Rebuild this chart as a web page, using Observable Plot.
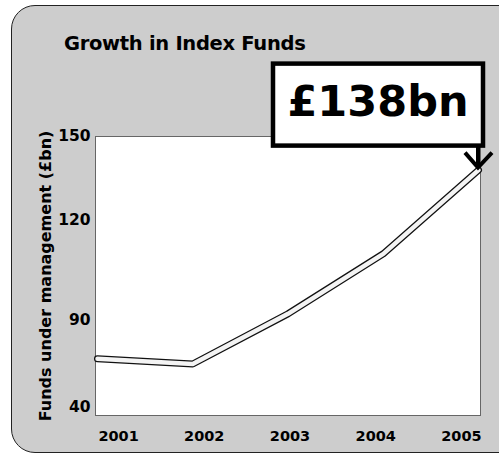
<!DOCTYPE html>
<html>
<head>
<meta charset="utf-8">
<script src="https://cdn.jsdelivr.net/npm/d3@7"></script>
<script src="https://cdn.jsdelivr.net/npm/@observablehq/plot@0.6"></script>
<style>
  body { margin: 0; background: #fff; }
  #wrap { position: relative; width: 499px; height: 462px; overflow: hidden; font-family: "DejaVu Sans", sans-serif; }
  #bg { position: absolute; left: 11px; top: 5px; width: 540px; height: 446px; border: 1.5px solid #222; border-radius: 24px; background: #cdcdcd; }
  #title { position: absolute; left: 64px; top: 32px; font: bold 19.5px "DejaVu Sans", sans-serif; color: #000; letter-spacing: -0.3px; white-space: nowrap; }
  #chart { position: absolute; left: 0; top: 0; }
</style>
</head>
<body>
<div id="wrap">
  <div id="bg"></div>
  <div id="chart"></div>
  <div id="title">Growth in Index Funds</div>
</div>
<script>
// Data
const years = [2001, 2002, 2003, 2004, 2005];
const funds = [68, 65, 92, 110, 138];           // £bn under management
const yTicks = [40, 90, 120, 150];
const calloutYear = 2005;
const calloutValue = 138;
const calloutText = "£138bn";
const yLabel = "Funds under management (£bn)";

const data = years.map((year, i) => ({ year, value: funds[i] }));

const chart = Plot.plot({
  width: 499,
  height: 462,
  marginLeft: 95,
  marginRight: 19,
  marginTop: 136,
  marginBottom: 47,
  style: { background: "transparent", fontFamily: "DejaVu Sans, sans-serif", fontWeight: "bold", color: "#000" },
  x: { domain: [2001, 2005], inset: 2, axis: null },
  // the printed axis is piecewise (unevenly spaced tick values)
  y: { type: "linear", domain: yTicks, range: [407, 320, 220, 136], axis: null },
  marks: [
    Plot.frame({ fill: "white", stroke: "#666", strokeWidth: 1 }),
    Plot.axisY({ ticks: yTicks, tickSize: 0, tickPadding: 5, fontSize: 15.5, label: null, fill: "#000" }),
    // year labels are printed slightly drawn-in toward the centre of the axis
    Plot.text(years, { x: d => 2003 + (d - 2003) * 0.9, frameAnchor: "bottom", dy: 21, dx: 2, text: d => String(d), fontSize: 14.5, fill: "#000", lineAnchor: "middle" }),
    Plot.text([yLabel], { frameAnchor: "left", rotate: -90, dx: -50, fontSize: 16, fill: "#000", textAnchor: "middle", lineAnchor: "middle" }),
    Plot.line(data, { x: "year", y: "value", stroke: "#111", strokeWidth: 7, strokeLinecap: "round", strokeLinejoin: "round" }),
    Plot.line(data, { x: "year", y: "value", stroke: "#f4f4f4", strokeWidth: 4.5, strokeLinecap: "round", strokeLinejoin: "round" })
  ]
});

document.getElementById("chart").appendChild(chart);

// Callout box and arrow anchored to the 2005 data point via the plot's scales
const px = chart.scale("x").apply(calloutYear);
const py = chart.scale("y").apply(calloutValue);
const svg = d3.select(chart);
const g = svg.append("g").attr("aria-label", "callout");
g.append("rect")
  .attr("x", px - 205).attr("y", py - 106)
  .attr("width", 210).attr("height", 82)
  .attr("fill", "white").attr("stroke", "#000").attr("stroke-width", 4.5);
g.append("text")
  .attr("x", px - 100).attr("y", py - 54)
  .attr("text-anchor", "middle")
  .attr("font-family", "DejaVu Sans, sans-serif")
  .attr("font-weight", "bold")
  .attr("font-size", 43)
  .attr("fill", "#000")
  .text(calloutText);
g.append("path")
  .attr("d", `M${px},${py - 24}L${px},${py - 3}M${px - 13},${py - 17}L${px},${py - 2}L${px + 14},${py - 17}`)
  .attr("fill", "none").attr("stroke", "#000").attr("stroke-width", 4).attr("stroke-linejoin", "miter");
</script>
</body>
</html>
